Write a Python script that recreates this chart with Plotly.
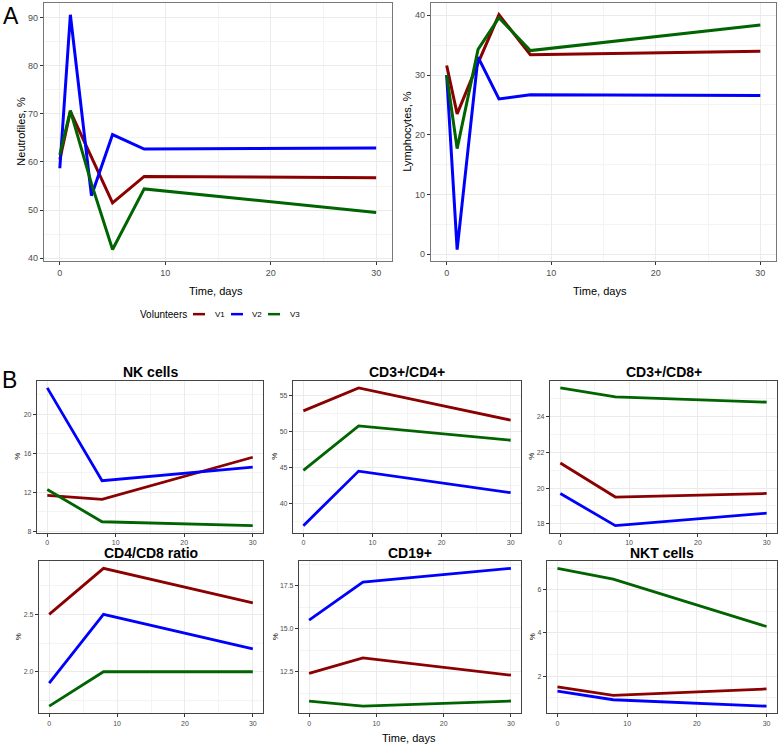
import plotly.graph_objects as go

W, H = 778, 747
FONT = "Liberation Sans, Arial, Helvetica, sans-serif"

volunteers = ["V1", "V2", "V3"]
colors = {"V1": "#8B0000", "V2": "#0000FF", "V3": "#006400"}

# Panel A
days_a = [0, 1, 3, 5, 8, 30]
neutro = {
    "V1": [60.5, 70.5, 61.0, 51.5, 57.0, 56.7],
    "V2": [58.7, 90.6, 53.0, 65.7, 62.7, 62.9],
    "V3": [61.5, 70.7, 55.5, 41.8, 54.4, 49.5],
}
lympho = {
    "V1": [31.6, 23.5, 32.0, 40.1, 33.4, 34.0],
    "V2": [30.0, 0.8, 33.0, 26.0, 26.7, 26.6],
    "V3": [30.0, 17.7, 34.3, 39.6, 34.1, 38.4],
}

# Panel B
days_b = [0, 8, 30]
nk_cells = {"V1": [11.7, 11.3, 15.6], "V2": [22.7, 13.2, 14.6], "V3": [12.3, 9.0, 8.6]}
cd3_cd4 = {"V1": [52.9, 56.1, 51.6], "V2": [36.9, 44.5, 41.5], "V3": [44.6, 50.8, 48.8]}
cd3_cd8 = {"V1": [21.4, 19.5, 19.7], "V2": [19.7, 17.9, 18.6], "V3": [25.6, 25.1, 24.8]}
cd4_cd8 = {"V1": [2.5, 2.9, 2.6], "V2": [1.9, 2.5, 2.2], "V3": [1.7, 2.0, 2.0]}
cd19 = {"V1": [12.4, 13.3, 12.3], "V2": [15.5, 17.7, 18.5], "V3": [10.8, 10.5, 10.8]}
nkt_cells = {"V1": [1.5, 1.1, 1.4], "V2": [1.3, 0.9, 0.6], "V3": [7.0, 6.5, 4.3]}

b_titles = ["NK cells", "CD3+/CD4+", "CD3+/CD8+", "CD4/CD8 ratio", "CD19+", "NKT cells"]
b_data = [nk_cells, cd3_cd4, cd3_cd8, cd4_cd8, cd19, nkt_cells]
b_dtick = [4, 5, 2, 0.5, 2.5, 2]
b_fmt = ["", "", "", ".1f", ".1f", ""]

def px(x):
    return x / W

def py(y):
    return 1 - y / H

def rng(vals):
    lo, hi = min(vals), max(vals)
    s = hi - lo
    return [lo - 0.05 * s, hi + 0.05 * s]

fig = go.Figure()
layout = dict(
    width=W, height=H, margin=dict(l=0, r=0, t=0, b=0),
    paper_bgcolor="white", plot_bgcolor="white", showlegend=False,
    font=dict(family=FONT, color="black"),
)

annotations = []
shapes = []

def ann(text, x, y, size, xanchor="center", yanchor="middle", angle=0):
    annotations.append(dict(text=text, x=px(x), y=py(y), xref="paper", yref="paper",
                            xanchor=xanchor, yanchor=yanchor, textangle=angle,
                            showarrow=False, font=dict(size=size, family=FONT, color="black")))

def add_panel(idx, xd, yd, days, data, dtick, fmt, tick_size, lw, border_col):
    xa = "xaxis" if idx == 1 else f"xaxis{idx}"
    ya = "yaxis" if idx == 1 else f"yaxis{idx}"
    xr = "x" if idx == 1 else f"x{idx}"
    yr = "y" if idx == 1 else f"y{idx}"
    allv = []
    for v in volunteers:
        allv += data[v]
        fig.add_trace(go.Scatter(x=days, y=data[v], mode="lines", name=v,
                                 line=dict(color=colors[v], width=lw),
                                 xaxis=xr, yaxis=yr))
    common = dict(showline=True, mirror=True, linecolor=border_col, linewidth=1.2,
                  ticks="outside", ticklen=3, tickcolor="#333333", tickwidth=1,
                  gridcolor="#EBEBEB", gridwidth=1, zeroline=False,
                  tickfont=dict(size=tick_size, color="#4D4D4D", family=FONT))
    layout[xa] = dict(domain=xd, anchor=yr, range=[-1.5, 31.5], tick0=0, dtick=10,
                      minor=dict(dtick=5, tick0=0, showgrid=True, gridcolor="#F4F4F4", ticks=""),
                      **common)
    yr_ = rng(allv)
    layout[ya] = dict(domain=yd, anchor=xr, range=yr_, tick0=0, dtick=dtick,
                      tickformat=fmt,
                      minor=dict(dtick=dtick / 2, tick0=0, showgrid=True, gridcolor="#F4F4F4", ticks=""),
                      **common)

# Panel A axes
add_panel(1, [px(44), px(392)], [py(262), py(3)], days_a, neutro, 10, "", 9, 3, "#777777")
add_panel(2, [px(431), px(776)], [py(262), py(3)], days_a, lympho, 10, "", 9, 3, "#777777")

ann("A", 1, 1, 23, xanchor="left", yanchor="top")
ann("Neutrofiles, %", 21, 132, 11, angle=-90)
ann("Lymphocytes, %", 407, 132, 11, angle=-90)
ann("Time, days", 216, 292, 11)
ann("Time, days", 600, 292, 11)
ann("Volunteers", 138, 315, 10, xanchor="left")

# Manual legend keys
leg_line_x = [(193, 205), (231, 243), (268, 280)]
leg_text_x = [213, 250, 288]
for v, (x0, x1), tx in zip(volunteers, leg_line_x, leg_text_x):
    shapes.append(dict(type="line", xref="paper", yref="paper", x0=px(x0), x1=px(x1),
                       y0=py(315), y1=py(315), line=dict(color=colors[v], width=2.5)))
    ann(v, tx, 315, 8, xanchor="left")

ann("B", 0, 366, 23, xanchor="left", yanchor="top")

# Panel B layout
b_x = [(37, 263), (293, 521), (550, 777), (39, 263), (299, 521), (547, 777)]
b_ytitle_x = [18, 275, 532, 18, 275, 532]
b_rows = [(382, 534), (563, 715)]
for i in range(6):
    r = i // 3
    x0, x1 = b_x[i]
    y0, y1 = b_rows[r]
    add_panel(3 + i, [px(x0), px(x1)], [py(y1), py(y0)], days_b, b_data[i], b_dtick[i],
              b_fmt[i], 7, 2.8, "#444444")
    ann(f"<b>{b_titles[i]}</b>", (x0 + x1) / 2, y0 - 9, 14)
    ann("%", b_ytitle_x[i], (y0 + y1) / 2, 8, angle=-90)

ann("Time, days", 409, 740, 11)

layout["annotations"] = annotations
layout["shapes"] = shapes
fig.update_layout(**layout)
fig.write_html("out.html", config={"displayModeBar": False},
               post_script="document.body.style.margin='0';document.body.style.overflow='hidden';")
